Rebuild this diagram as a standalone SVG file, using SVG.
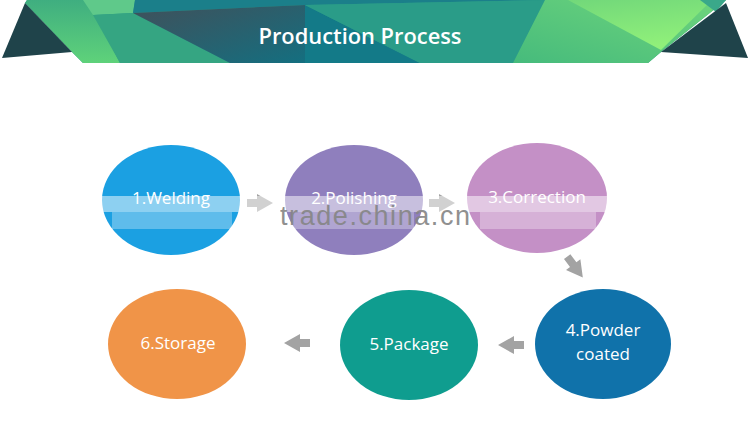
<svg xmlns="http://www.w3.org/2000/svg" width="748" height="448" viewBox="0 0 748 448">
<defs>
<style>
.lbl{font-family:"Open Sans","Liberation Sans",sans-serif;font-size:17px;fill:#ffffff;text-anchor:middle}
.arr{fill:#a3a3a3}
.band{fill:#ffffff}
</style>
<linearGradient id="gDark" x1="0" y1="0" x2="1" y2="1">
<stop offset="0" stop-color="#40505a"/><stop offset="1" stop-color="#146f80"/>
</linearGradient>
<linearGradient id="gRight" x1="0" y1="1" x2="1" y2="0">
<stop offset="0" stop-color="#46bb7c"/><stop offset="1" stop-color="#6fd57c"/>
</linearGradient>
<linearGradient id="gBright" x1="0" y1="0" x2="0.3" y2="1">
<stop offset="0" stop-color="#72d87a"/><stop offset="1" stop-color="#90f07a"/>
</linearGradient>
<linearGradient id="gStripe" x1="0" y1="0" x2="0" y2="1">
<stop offset="0" stop-color="#3fae80"/><stop offset="1" stop-color="#5fd27a"/>
</linearGradient>
<path id="arrow" d="M-13,-4 H-3 V-9 L13,0 L-3,9 V4 H-13 Z"/>
</defs>
<rect width="748" height="448" fill="#ffffff"/>
<g id="banner">
<polygon points="27,0 726,0 661,52 648,63 83,63 72,52 25,3" fill="#2a9a88"/>
<polygon points="27,0 88,0 120,63 83,63 72,52 25,3" fill="url(#gStripe)"/>
<polygon points="83,0 135,0 133,13 93,15" fill="#5fc98a"/>
<polygon points="93,15 133,13 230,63 120,63" fill="#35a582"/>
<polygon points="135,0 545,0 305,5 133,13" fill="#1b7f8a"/>
<polygon points="133,13 305,5 305,63 230,63" fill="url(#gDark)"/>
<polygon points="305,5 420,63 305,63" fill="#137a88"/>
<polygon points="305,5 545,0 513,63 420,63" fill="#2a9c88"/>
<polygon points="545,0 726,0 661,52 648,63 513,63" fill="url(#gRight)"/>
<polygon points="568,0 712,0 661,50" fill="url(#gBright)"/>
<polygon points="700,0 726,0 716,12" fill="#3aa88a"/>
<polygon points="2,58 25,3 72,52" fill="#1f434a"/>
<polygon points="661,52 726,3 748,58" fill="#1f434a"/>
<text x="360" y="44" font-family="'Open Sans','Liberation Sans',sans-serif" font-size="21" font-weight="600" fill="#ffffff" text-anchor="middle" textLength="203" lengthAdjust="spacingAndGlyphs">Production Process</text>
</g>
<g id="n1">
<ellipse cx="171" cy="200" rx="69" ry="55" fill="#1ba0e2"/>
<text class="lbl" x="171" y="204">1.Welding</text>
</g>
<g id="n2">
<ellipse cx="354" cy="200" rx="69" ry="55" fill="#8f7fbd"/>
<text class="lbl" x="354" y="204">2.Polishing</text>
</g>
<g id="n3">
<ellipse cx="537" cy="198" rx="70" ry="55" fill="#c490c6"/>
<text class="lbl" x="537" y="203">3.Correction</text>
</g>
<g id="n4">
<ellipse cx="603" cy="344" rx="68" ry="55" fill="#1072aa"/>
<text class="lbl" x="603" y="336">4.Powder</text>
<text class="lbl" x="603" y="360">coated</text>
</g>
<g id="n5">
<ellipse cx="409" cy="345" rx="69" ry="55" fill="#0f9d8f"/>
<text class="lbl" x="409" y="350">5.Package</text>
</g>
<g id="n6">
<ellipse cx="177" cy="344" rx="69" ry="55" fill="#f09448"/>
<text class="lbl" x="178" y="349">6.Storage</text>
</g>
<g id="connectors">
<use href="#arrow" class="arr" transform="translate(260,203)"/>
<use href="#arrow" class="arr" transform="translate(442,203)"/>
<use href="#arrow" class="arr" transform="translate(575,267) rotate(53)"/>
<use href="#arrow" class="arr" transform="translate(511,345) rotate(180)"/>
<use href="#arrow" class="arr" transform="translate(297,343) rotate(180)"/>
</g>
<g id="overlay">
<rect class="band" x="100" y="196" width="512" height="16" opacity="0.5"/>
<rect class="band" x="112" y="212" width="120" height="17" opacity="0.3"/>
<rect class="band" x="292" y="212" width="122" height="17" opacity="0.3"/>
<rect class="band" x="480" y="212" width="116" height="17" opacity="0.3"/>
<text x="280" y="225" font-family="'Liberation Sans',Arial,sans-serif" font-size="27" fill="#858585" opacity="0.9" textLength="190" lengthAdjust="spacing">trade.china.cn</text>
</g>
</svg>
